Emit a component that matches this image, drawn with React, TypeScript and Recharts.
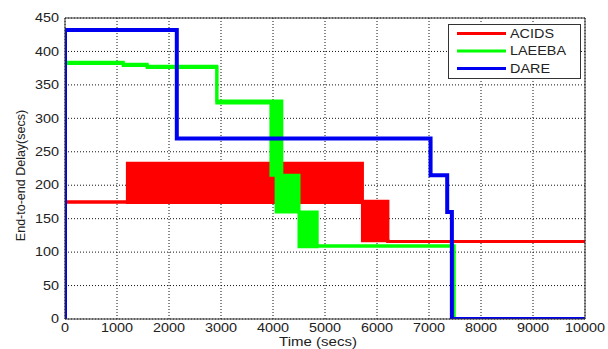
import React from 'react'
import { ComposedChart, Area, Line, XAxis, YAxis, CartesianGrid, Legend } from 'recharts'

const X_TICKS = [0, 1000, 2000, 3000, 4000, 5000, 6000, 7000, 8000, 9000, 10000]
const Y_TICKS = [0, 50, 100, 150, 200, 250, 300, 350, 400, 450]

// ACIDS: a noisy band, drawn as a low/high range
const ACIDS_TIME = [0, 1200, 5720, 6210, 10000]
const ACIDS_LOW = [175, 174, 117, 116, 116]
const ACIDS_HIGH = [175, 233, 176, 116, 116]

// LAEEBA: same idea
const LAEEBA_TIME = [0, 1120, 1580, 2920, 3960, 4060, 4170, 4500, 4850, 7480, 10000]
const LAEEBA_LOW = [382, 379, 376, 323, 215, 160, 160, 108, 109, 0, 0]
const LAEEBA_HIGH = [384, 381, 378, 326, 326, 326, 215, 160, 109, 0, 0]

// DARE: a plain step line
const DARE_TIME = [0, 0, 2150, 7030, 7350, 7440, 10000]
const DARE_DELAY = [0, 432, 270, 215, 160, 0, 0]

const SERIES_NAMES = ['ACIDS', 'LAEEBA', 'DARE']
const SERIES_COLORS = ['#ff0000', '#00ff00', '#0000f0']

const FONT = '"Liberation Sans", Arial, sans-serif'
const TEXT = '#222'
const FRAME = '#333'

const acidsData = ACIDS_TIME.map((t, i) => ({ time: t, range: [ACIDS_LOW[i], ACIDS_HIGH[i]] }))
const laeebaData = LAEEBA_TIME.map((t, i) => ({ time: t, range: [LAEEBA_LOW[i], LAEEBA_HIGH[i]] }))
const dareData = DARE_TIME.map((t, i) => ({ time: t, delay: DARE_DELAY[i] }))

// the source picture is stretched sideways, so text gets a small x scale
const XTick = ({ x, y, payload }: any) => (
    <g transform={`translate(${x},${y}) scale(1.2,1)`}>
        <text x={0} y={0} dy="0.71em" textAnchor="middle" fontSize={12} fontFamily={FONT} fill={TEXT}>
            {payload.value}
        </text>
    </g>
)

const YTick = ({ x, y, payload }: any) => (
    <g transform={`translate(${x},${y}) scale(1.2,1)`}>
        <text x={0} y={0} dy="0.355em" textAnchor="end" fontSize={12} fontFamily={FONT} fill={TEXT}>
            {payload.value}
        </text>
    </g>
)

const XLabel = ({ viewBox }: any) => (
    <g transform={`translate(${viewBox.x + viewBox.width / 2 - 7},${viewBox.y + 27}) scale(1.25,1)`}>
        <text x={0} y={0} textAnchor="middle" fontSize={12} fontFamily={FONT} fill={TEXT}>
            Time (secs)
        </text>
    </g>
)

const YLabel = ({ viewBox }: any) => (
    <text
        x={0}
        y={0}
        transform={`translate(${viewBox.x},${viewBox.y + viewBox.height / 2 + 7}) rotate(-90)`}
        textAnchor="middle"
        fontSize={12.5}
        fontFamily={FONT}
        fill={TEXT}
    >
        End-to-end Delay(secs)
    </text>
)

const LegendBox = () => (
    <svg width={133} height={55} style={{ display: 'block' }}>
        <rect x={0.5} y={0.5} width={132} height={54} fill="#fff" stroke={FRAME} />
        {SERIES_NAMES.map((name, i) => (
            <g key={name}>
                <line x1={9} x2={58} y1={9.5 + i * 17.5} y2={9.5 + i * 17.5} stroke={SERIES_COLORS[i]} strokeWidth={3} />
                <g transform={`translate(62,${9.5 + i * 17.5}) scale(1.2,1)`}>
                    <text x={0} y={0} dy="0.355em" fontSize={12} fontFamily={FONT} fill={TEXT}>
                        {name}
                    </text>
                </g>
            </g>
        ))}
    </svg>
)

export default function App() {
    return (
        <div style={{ position: 'absolute', left: 0, top: 0, width: 608, height: 349, background: '#fff' }}>
            <ComposedChart width={608} height={349} margin={{ top: 18, right: 23, left: 25, bottom: 0 }}>
                <CartesianGrid stroke="#111" strokeDasharray="1 2" strokeWidth={1} />

                {/* labelled axes, outer side */}
                <XAxis
                    dataKey="time"
                    type="number"
                    domain={[0, 10000]}
                    ticks={X_TICKS}
                    allowDataOverflow
                    height={30}
                    tickSize={0}
                    tickMargin={4}
                    tickLine={false}
                    axisLine={{ stroke: FRAME }}
                    tick={<XTick />}
                    label={<XLabel />}
                />
                <YAxis
                    type="number"
                    domain={[0, 450]}
                    ticks={Y_TICKS}
                    allowDataOverflow
                    width={40}
                    tickSize={0}
                    tickMargin={6}
                    tickLine={false}
                    axisLine={{ stroke: FRAME }}
                    tick={<YTick />}
                    label={<YLabel />}
                />

                {/* inward tick marks on all four sides, matlab style */}
                <XAxis xAxisId="bottomIn" orientation="bottom" mirror type="number" domain={[0, 10000]} ticks={X_TICKS}
                    allowDataOverflow tick={false} tickSize={5} axisLine={false} tickLine={{ stroke: FRAME }} />
                <XAxis xAxisId="topIn" orientation="top" mirror type="number" domain={[0, 10000]} ticks={X_TICKS}
                    allowDataOverflow tick={false} tickSize={5} axisLine={{ stroke: FRAME }} tickLine={{ stroke: FRAME }} />
                <YAxis yAxisId="leftIn" orientation="left" mirror type="number" domain={[0, 450]} ticks={Y_TICKS}
                    allowDataOverflow tick={false} tickSize={5} axisLine={false} tickLine={{ stroke: FRAME }} />
                <YAxis yAxisId="rightIn" orientation="right" mirror type="number" domain={[0, 450]} ticks={Y_TICKS}
                    allowDataOverflow tick={false} tickSize={5} axisLine={{ stroke: FRAME }} tickLine={{ stroke: FRAME }} />

                <Area
                    data={acidsData}
                    dataKey="range"
                    name="ACIDS"
                    type="stepAfter"
                    stroke={SERIES_COLORS[0]}
                    strokeWidth={3}
                    fill={SERIES_COLORS[0]}
                    fillOpacity={1}
                    dot={false}
                    activeDot={false}
                    isAnimationActive={false}
                />
                <Area
                    data={laeebaData}
                    dataKey="range"
                    name="LAEEBA"
                    type="stepAfter"
                    stroke={SERIES_COLORS[1]}
                    strokeWidth={3}
                    fill={SERIES_COLORS[1]}
                    fillOpacity={1}
                    dot={false}
                    activeDot={false}
                    isAnimationActive={false}
                />
                <Line
                    data={dareData}
                    dataKey="delay"
                    name="DARE"
                    type="stepAfter"
                    stroke={SERIES_COLORS[2]}
                    strokeWidth={4}
                    dot={false}
                    activeDot={false}
                    isAnimationActive={false}
                />

                <Legend
                    layout="vertical"
                    align="center"
                    verticalAlign="middle"
                    wrapperStyle={{ left: 448, top: 24, width: 133, height: 55 }}
                    content={() => <LegendBox />}
                />
            </ComposedChart>
        </div>
    )
}
